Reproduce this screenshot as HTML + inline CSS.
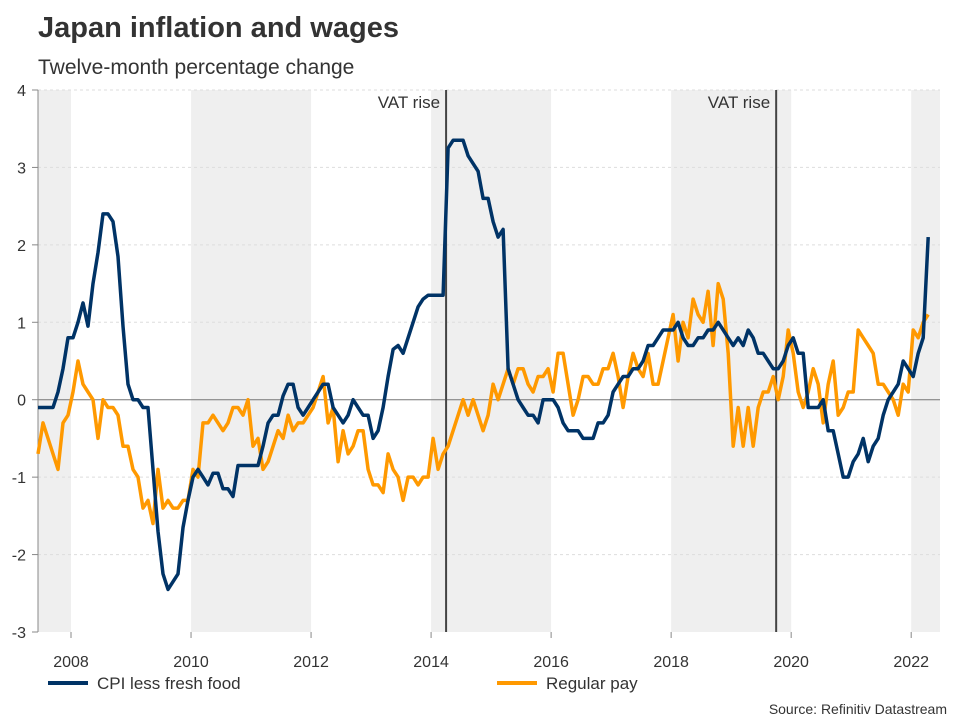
<!DOCTYPE html>
<html><head><meta charset="utf-8"><style>
body{margin:0;background:#fff;font-family:"Liberation Sans",sans-serif}
svg text{font-family:"Liberation Sans",sans-serif}
</style></head><body>
<svg id="c" width="960" height="720" xmlns="http://www.w3.org/2000/svg">
<text x="38" y="37" font-size="29" font-weight="bold" fill="#333">Japan inflation and wages</text>
<text x="38" y="74" font-size="21" fill="#333">Twelve-month percentage change</text>
<g id="bands"></g><g id="grid"></g><g id="axes"></g><g id="lines"></g>
<line x1="48" y1="683" x2="88" y2="683" stroke="#003366" stroke-width="4"/>
<text x="97" y="689" font-size="17" fill="#333">CPI less fresh food</text>
<line x1="497" y1="683" x2="537" y2="683" stroke="#ff9900" stroke-width="4"/>
<text x="546" y="689" font-size="17" fill="#333">Regular pay</text>
<text x="947" y="714" font-size="14" fill="#333" text-anchor="end">Source: Refinitiv Datastream</text>
</svg>
<script>
const startYear = 2007.45;
const cpi = [-0.1,-0.1,-0.1,-0.1,0.1,0.4,0.8,0.8,1.0,1.25,0.95,1.5,1.9,2.4,2.4,2.3,1.85,0.95,0.2,0,0,-0.1,-0.1,-0.9,-1.7,-2.25,-2.45,-2.35,-2.25,-1.65,-1.3,-1.0,-0.9,-1.0,-1.1,-0.95,-0.95,-1.15,-1.15,-1.25,-0.85,-0.85,-0.85,-0.85,-0.85,-0.6,-0.3,-0.2,-0.2,0.05,0.2,0.2,-0.1,-0.2,-0.1,0,0.1,0.2,0.2,-0.1,-0.2,-0.3,-0.2,0,-0.1,-0.2,-0.2,-0.5,-0.4,-0.1,0.3,0.65,0.7,0.6,0.8,1.0,1.2,1.3,1.35,1.35,1.35,1.35,3.25,3.35,3.35,3.35,3.15,3.05,2.95,2.6,2.6,2.3,2.1,2.2,0.4,0.2,0,-0.1,-0.2,-0.2,-0.3,0,0,0,-0.1,-0.3,-0.4,-0.4,-0.4,-0.5,-0.5,-0.5,-0.3,-0.3,-0.2,0.1,0.2,0.3,0.3,0.4,0.4,0.5,0.7,0.7,0.8,0.9,0.9,0.9,1.0,0.8,0.7,0.7,0.8,0.8,0.9,0.9,1.0,0.9,0.8,0.7,0.8,0.7,0.9,0.8,0.6,0.6,0.5,0.4,0.4,0.5,0.7,0.8,0.6,0.6,-0.1,-0.1,-0.1,0,-0.4,-0.4,-0.7,-1.0,-1.0,-0.8,-0.7,-0.5,-0.8,-0.6,-0.5,-0.2,0,0.1,0.2,0.5,0.4,0.3,0.6,0.8,2.1];
const pay = [-0.7,-0.3,-0.5,-0.7,-0.9,-0.3,-0.2,0.1,0.5,0.2,0.1,0,-0.5,0,-0.1,-0.1,-0.2,-0.6,-0.6,-0.9,-1.0,-1.4,-1.3,-1.6,-0.9,-1.4,-1.3,-1.4,-1.4,-1.3,-1.3,-0.9,-1.0,-0.3,-0.3,-0.2,-0.3,-0.4,-0.3,-0.1,-0.1,-0.2,0,-0.6,-0.5,-0.9,-0.8,-0.6,-0.4,-0.5,-0.2,-0.4,-0.3,-0.3,-0.2,-0.1,0.1,0.3,-0.3,-0.1,-0.8,-0.4,-0.7,-0.6,-0.4,-0.4,-0.9,-1.1,-1.1,-1.2,-0.7,-0.9,-1.0,-1.3,-1.0,-1.0,-1.1,-1.0,-1.0,-0.5,-0.9,-0.7,-0.6,-0.4,-0.2,0,-0.2,0,-0.2,-0.4,-0.2,0.2,0,0.2,0.4,0.2,0.4,0.4,0.2,0.1,0.3,0.3,0.4,0.1,0.6,0.6,0.2,-0.2,0,0.3,0.3,0.2,0.2,0.4,0.4,0.6,0.3,-0.1,0.3,0.6,0.4,0.3,0.6,0.2,0.2,0.5,0.8,1.1,0.5,1.0,0.8,1.3,1.1,1.0,1.4,0.7,1.5,1.3,0.6,-0.6,-0.1,-0.6,-0.1,-0.6,-0.1,0.1,0.1,0.3,0,0.3,0.9,0.6,0.1,-0.1,0.1,0.4,0.2,-0.3,0.2,0.5,-0.2,-0.1,0.1,0.1,0.9,0.8,0.7,0.6,0.2,0.2,0.1,0,-0.2,0.2,0.1,0.9,0.8,1.0,1.1];
const yTicks = [4,3,2,1,0,-1,-2,-3];
const xTicks = [2008,2010,2012,2014,2016,2018,2020,2022];
const bandStarts = [2006,2010,2014,2018,2022];
const vatDates = [2014.25,2019.75];
const vatLabels = ["VAT rise","VAT rise"];

const X0=38,X1=940,Y0=90,Y1=632,xMin=2007.45,xMax=2022.48,yMin=-3,yMax=4;
const sx=v=>X0+(v-xMin)/(xMax-xMin)*(X1-X0);
const sy=v=>Y1-(v-yMin)/(yMax-yMin)*(Y1-Y0);
const NS="http://www.w3.org/2000/svg";
function mk(tag,attrs,parent,txt){const e=document.createElementNS(NS,tag);for(const k in attrs)e.setAttribute(k,attrs[k]);if(txt!==undefined)e.textContent=txt;document.getElementById(parent).appendChild(e);return e;}

bandStarts.forEach(b=>{
  const a=Math.max(sx(b),X0), z=Math.min(sx(b+2),X1);
  const r=mk('rect',{x:a,y:Y0,width:z-a,height:Y1-Y0,fill:'#efefef'},'bands');
  
  
});
yTicks.forEach(t=>{
  const y=sy(t);
  if(t!==0&&t!==yMin){const g=mk('line',{x1:X0,x2:X1,y1:y,y2:y,stroke:'#ddd','stroke-dasharray':'3,3'},'grid');
  
  }
  const tk=mk('line',{x1:X0-6,x2:X0,y1:y,y2:y,stroke:'#888'},'axes');
  
  
  const l=mk('text',{x:X0-12,y:y+6,'font-size':16,fill:'#333','text-anchor':'end'},'axes',t);
  
  
});
const z=mk('line',{x1:X0,x2:X1,y1:sy(0),y2:sy(0),stroke:'#777','stroke-width':1},'axes');


const ya=mk('line',{x1:X0,x2:X0,y1:Y0,y2:Y1,stroke:'#888'},'axes');


xTicks.forEach(t=>{
  const x=sx(t);
  const tk=mk('line',{x1:x,x2:x,y1:Y1,y2:Y1+6,stroke:'#888'},'axes');
  
  
  const l=mk('text',{x:x,y:667,'font-size':16,fill:'#333','text-anchor':'middle'},'axes',t);
  
  
});
vatDates.forEach((d,i)=>{
  const x=sx(d);
  const v=mk('line',{x1:x,x2:x,y1:Y0,y2:Y1,stroke:'#444','stroke-width':2},'lines');
  
  
  const l=mk('text',{x:x-6,y:108,'font-size':17,fill:'#333','text-anchor':'end'},'lines',vatLabels[i]);
  
  
});
function path(arr,color,name){
  const d=arr.map((v,i)=>(i?'L':'M')+sx(startYear+i/12).toFixed(1)+','+sy(v).toFixed(1)).join('');
  const p=mk('path',{d:d,fill:'none',stroke:color,'stroke-width':3.5,'stroke-linejoin':'round'},'lines');
  
  
}
path(pay,'#ff9900','regular-pay-line');
path(cpi,'#003366','cpi-line');
</script>
</body></html>
